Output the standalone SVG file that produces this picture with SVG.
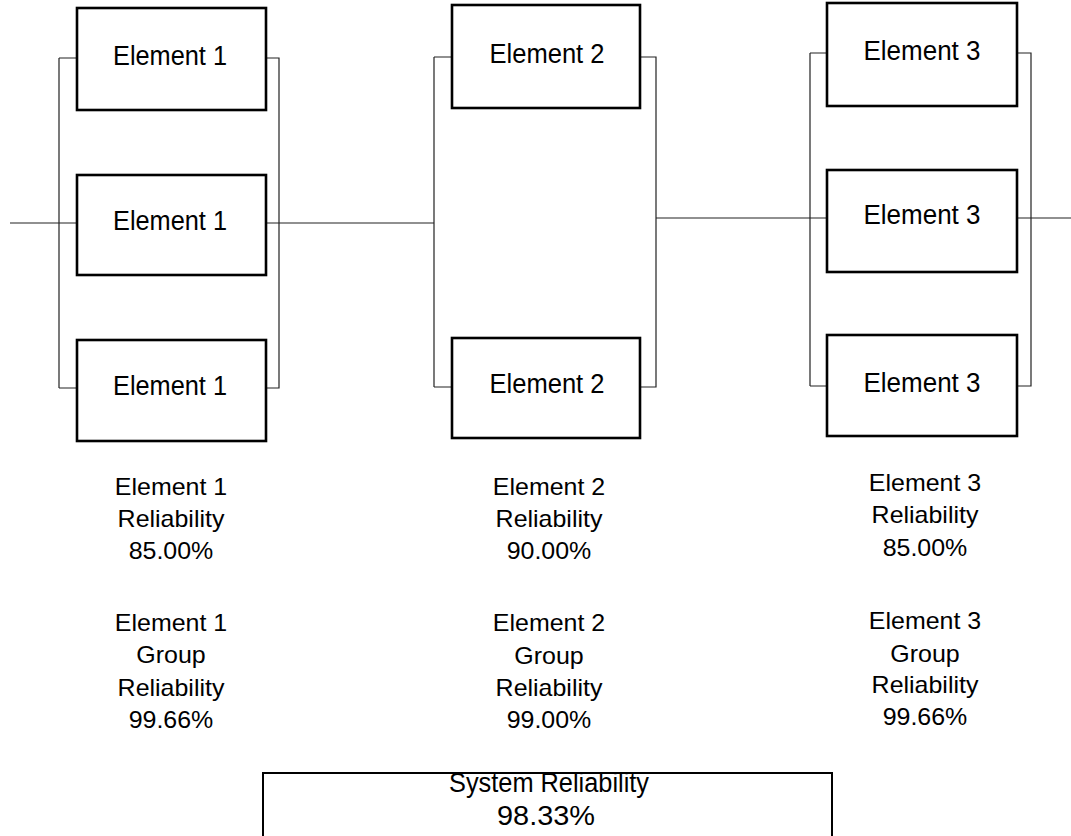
<svg xmlns="http://www.w3.org/2000/svg" width="1071" height="836" viewBox="0 0 1071 836">
<style>
.box{fill:#fff;stroke:#000;stroke-width:2.6}
.wire{fill:none;stroke:#222;stroke-width:1.2}
.bt{font-family:"Liberation Sans",Arial,sans-serif;font-size:27.5px;fill:#000;text-anchor:middle}
.lt{font-family:"Liberation Sans",Arial,sans-serif;font-size:24px;fill:#000;text-anchor:middle}
.st{font-family:"Liberation Sans",Arial,sans-serif;font-size:27px;fill:#000;text-anchor:middle}
</style>
<rect width="1071" height="836" fill="#fff"/>
<g id="connectors" class="wire">
<path d="M10 223H77M59 58V388M59 58H77M59 388H77"/>
<path d="M266 58H279V388H266M266 223H434"/>
<path d="M434 57V387M434 57H452M434 387H452"/>
<path d="M640 57H656V387H640M656 218H827"/>
<path d="M810 53V386M810 53H827M810 386H827"/>
<path d="M1017 53H1031V386H1017M1017 218H1071"/>
</g>
<g id="e1a"><rect class="box" x="77" y="8" width="189" height="102"/><text class="bt" x="170" y="65" textLength="114" lengthAdjust="spacingAndGlyphs">Element 1</text></g>
<g id="e1b"><rect class="box" x="77" y="175" width="189" height="100"/><text class="bt" x="170" y="230" textLength="114" lengthAdjust="spacingAndGlyphs">Element 1</text></g>
<g id="e1c"><rect class="box" x="77" y="340" width="189" height="101"/><text class="bt" x="170" y="395" textLength="114" lengthAdjust="spacingAndGlyphs">Element 1</text></g>
<g id="e2a"><rect class="box" x="452" y="5" width="188" height="103"/><text class="bt" x="547" y="63" textLength="115" lengthAdjust="spacingAndGlyphs">Element 2</text></g>
<g id="e2b"><rect class="box" x="452" y="338" width="188" height="100"/><text class="bt" x="547" y="393" textLength="115" lengthAdjust="spacingAndGlyphs">Element 2</text></g>
<g id="e3a"><rect class="box" x="827" y="3" width="190" height="103"/><text class="bt" x="922" y="60" textLength="117" lengthAdjust="spacingAndGlyphs">Element 3</text></g>
<g id="e3b"><rect class="box" x="827" y="170" width="190" height="102"/><text class="bt" x="922" y="224" textLength="117" lengthAdjust="spacingAndGlyphs">Element 3</text></g>
<g id="e3c"><rect class="box" x="827" y="335" width="190" height="101"/><text class="bt" x="922" y="392" textLength="117" lengthAdjust="spacingAndGlyphs">Element 3</text></g>
<g id="label1">
<g transform="translate(171,0) scale(1.04,1)">
<text class="lt" x="0" y="495">Element 1</text>
<text class="lt" x="0" y="527">Reliability</text>
<text class="lt" x="0" y="559">85.00%</text>
<text class="lt" x="0" y="631">Element 1</text>
<text class="lt" x="0" y="663">Group</text>
<text class="lt" x="0" y="696">Reliability</text>
<text class="lt" x="0" y="728">99.66%</text>
</g></g>
<g id="label2">
<g transform="translate(549,0) scale(1.04,1)">
<text class="lt" x="0" y="495">Element 2</text>
<text class="lt" x="0" y="527">Reliability</text>
<text class="lt" x="0" y="559">90.00%</text>
<text class="lt" x="0" y="631">Element 2</text>
<text class="lt" x="0" y="664">Group</text>
<text class="lt" x="0" y="696">Reliability</text>
<text class="lt" x="0" y="728">99.00%</text>
</g></g>
<g id="label3">
<g transform="translate(925,0) scale(1.04,1)">
<text class="lt" x="0" y="491">Element 3</text>
<text class="lt" x="0" y="523">Reliability</text>
<text class="lt" x="0" y="556">85.00%</text>
<text class="lt" x="0" y="629">Element 3</text>
<text class="lt" x="0" y="662">Group</text>
<text class="lt" x="0" y="693">Reliability</text>
<text class="lt" x="0" y="725">99.66%</text>
</g></g>
<g id="system">
<path d="M263 840V773H832V840" fill="#fff" stroke="#000" stroke-width="2"/>
<text class="st" x="549" y="792" textLength="200" lengthAdjust="spacingAndGlyphs">System Reliability</text>
<text class="st" x="546" y="825" textLength="98" lengthAdjust="spacingAndGlyphs">98.33%</text>
</g>
</svg>
